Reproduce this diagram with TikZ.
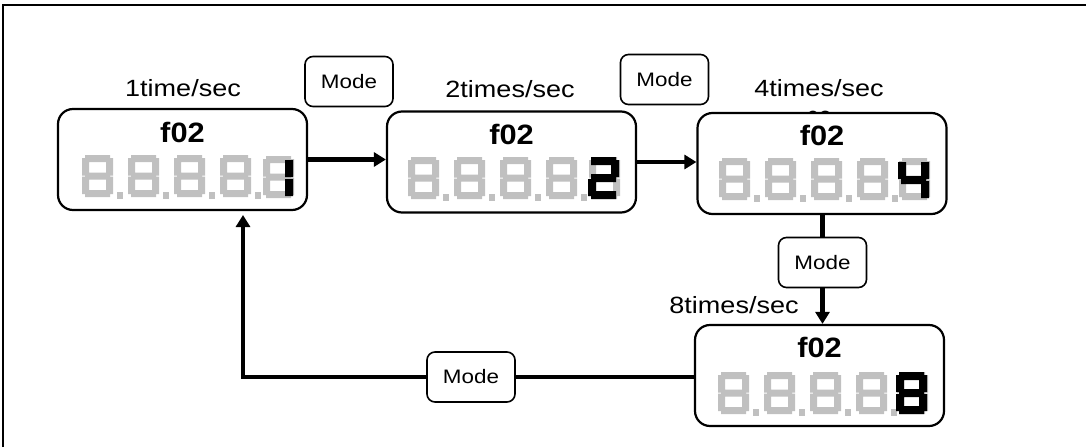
\documentclass[tikz,border=0pt]{standalone}
\usepackage{fontspec}
\setmainfont{Liberation Sans}
\usepackage{graphicx}
\usetikzlibrary{arrows.meta}
\newcommand{\hstr}[2]{\scalebox{#1}[1]{#2}}
\definecolor{lcdgray}{RGB}{192,192,192}
\tikzset{
  disp/.style={draw, line width=2.2pt, rounded corners=15pt, fill=white, minimum width=249pt, minimum height=101pt, inner sep=0pt},
  modebox/.style={draw, line width=1.6pt, rounded corners=8pt, fill=white, minimum width=88pt, minimum height=50pt, inner sep=0pt, font=\fontsize{19.5}{23}\selectfont},
  lbl/.style={font=\fontsize{23.5}{27}\selectfont, inner sep=0pt, anchor=base},
  ttl/.style={font=\fontsize{28}{32}\selectfont\bfseries, inner sep=0pt, anchor=base},
  conn/.style={line width=4.5pt},
  arr/.style={conn, -{Triangle[length=12pt,width=14pt]}},
  pics/g8n/.style={code={\fill[lcdgray] (3,0) rectangle (28,7) (3,17.5) rectangle (28,24.5) (3,35) rectangle (28,42) (0,3) rectangle (7,20.5) (0,21.5) rectangle (7,39) (24,3) rectangle (31,20.5) (24,21.5) rectangle (31,39);}},
  pics/g8/.style={code={\pic {g8n}; \fill[lcdgray] (35,37) rectangle (41,44);}},
  pics/bone/.style={code={\fill[black] (23,3) rectangle (31,20) (23,22) rectangle (31,39);}},
  pics/btwo/.style={code={\fill[black] (3,0) rectangle (28,8) (23,3) rectangle (31,20) (3,17) rectangle (28,25) (0,22) rectangle (8,39) (3,34) rectangle (28,42);}},
  pics/bfour/.style={code={\fill[black] (0,3) rectangle (8,20) (3,17) rectangle (28,25) (23,3) rectangle (31,20) (23,22) rectangle (31,39);}},
  pics/beight/.style={code={\fill[black] (3,0) rectangle (28,8) (23,3) rectangle (31,20) (23,22) rectangle (31,39) (3,34) rectangle (28,42) (0,22) rectangle (8,39) (0,3) rectangle (8,20) (3,17) rectangle (28,25);}}
}
\begin{document}
\begin{tikzpicture}[x=1pt,y=-1pt]
\useasboundingbox (0,0) rectangle (1086,447);
% outer frame
\draw[line width=1.8pt] (3,447) -- (3,5) -- (1086,5);

% partially hidden text behind box 3
\node[font=\fontsize{22}{26}\selectfont, inner sep=0pt, anchor=base] (hid) at (819,126) {02};

% displays
\node[disp] (b1) at (182.5,159.5) {};
\node[disp] (b2) at (511.5,162) {};
\node[disp] (b3) at (822,163.5) {};
\node[disp] (b4) at (819.5,375.5) {};

% rate labels
\node[lbl] (l1) at (183,96) {\hstr{1.15}{1time/sec}};
\node[lbl] (l2) at (510,97) {\hstr{1.15}{2times/sec}};
\node[lbl] (l3) at (819,96) {\hstr{1.15}{4times/sec}};
\node[lbl] (l4) at (734,313) {\hstr{1.15}{8times/sec}};

% titles
\node[ttl] (t1) at (182.5,142) {\hstr{1.1}{f02}};
\node[ttl] (t2) at (511.5,144) {\hstr{1.1}{f02}};
\node[ttl] (t3) at (822,145) {\hstr{1.1}{f02}};
\node[ttl] (t4) at (819.5,357) {\hstr{1.1}{f02}};

% LCD digits
\foreach \k in {0,...,3} {
  \pic at (82+46*\k,155) {g8};
  \pic at (408+46*\k,157) {g8};
  \pic at (719+46*\k,158) {g8};
  \pic at (718+46*\k,372) {g8};
}
\pic at (263,156) {g8n};
\pic at (589,157) {g8n};
\pic at (899,158) {g8n};
\pic at (897,372) {g8n};
\pic at (262,157) {bone};
\pic at (588,157) {btwo};
\pic at (898,159) {bfour};
\pic at (896,372) {beight};

% mode buttons
\node[modebox] (m1) at (349,81.5) {\hstr{1.15}{Mode}};
\node[modebox] (m2) at (664.5,79.5) {\hstr{1.15}{Mode}};
\node[modebox] (m3) at (822.5,262.5) {\hstr{1.15}{Mode}};
\node[modebox] (m4) at (471,377) {\hstr{1.15}{Mode}};

% connectors
\coordinate (e1) at (243,215);
\draw[arr] (b1.east) -- (b1.east -| b2.west);
\draw[arr] (b2.east) -- (b2.east -| b3.west);
\draw[conn] (b3.south -| m3.north) -- (m3.north);
\draw[arr] (m3.south) -- (m3.south |- b4.north);
\draw[conn] (m4.east -| b4.west) -- (m4.east);
\draw[arr] (m4.west) -| (e1);
\end{tikzpicture}
\end{document}
